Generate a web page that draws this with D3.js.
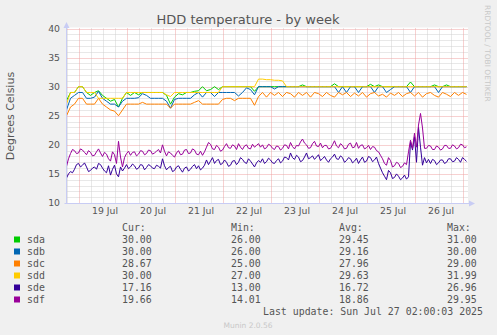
<!DOCTYPE html>
<html><head><meta charset="utf-8">
<script src="https://cdn.jsdelivr.net/npm/d3@7"></script>
<style>
html,body{margin:0;padding:0;background:#F0F0F0;}
svg{display:block;}
</style></head><body>
<svg id="c" width="497" height="335"></svg>
<script>
// ---- data ----
const seriesNames = ["sda","sdb","sdc","sdd","sde","sdf"];
const seriesColors = ["#00CC00","#0066B3","#FF8000","#FFCC00","#330099","#990099"];
// 2-hour samples
const sda = [27.6,29,29,30,30,29,28.5,29,29.3,28.5,28,27.5,27.8,26.5,28,29,28.5,29,28.6,29,29,29,29,29,29,28.5,27,28.2,28.8,28.6,29,29,29.2,29.3,30,29.3,29.5,30,29.5,30,30,30,30,30,30,30,30,29.2,30,30,30,30,30,30,30,30,30,30,30,30.3,30,30,30,30,30,30,30,30.5,30,30,30,30,30,30,30,30,30.4,30,30.3,30,30,30,30,30,30,30,30.8,30,30,30,30,30,30.3,30,30,30.3,30,30,30,30,30];
const sdb = [26,28,28.5,29,29,28,28,28.2,29.2,28,27.5,27,27,26.5,27.5,28,28,28,28.1,28.8,28.5,28,28,28,28,27.5,26.3,27.8,28,28,28,28,28.6,29,28.2,29,29,28.3,29,29,29,29,29,28.4,29,29.8,29.5,28.6,30,30,30,30,29.6,30,30,30,30,30,30,30,30,30,30,30,30,30,30,30,29,30,29,30,30,29,30,30,30,29,30,30,29,29.5,30,30,30,30,29,30,30,30,30,30,30,29,30,30,30,30,30,30,30];
const sdc = [25,26.5,27,28,28,27,27,27,28,27,26.5,26,25.8,25,26,27,27,27,27,27.3,27,27,27,27,27,27,26.3,27,27,27,27,27,27.3,27.6,27,27,27,27,27,27.8,28,28,27.6,28,28,28,28,26.8,28.3,29,28.2,29,28.5,29,28.3,29,28.8,28.2,29,28.5,29,28.2,29,28.8,28.3,29,28.5,28.2,29,28.6,29,28.3,28.9,28.4,29,28.2,28.8,29,28.4,28.7,28.2,28.9,28.5,29,28.3,28.8,29,28.4,29,28.2,28.8,29,28.5,28.2,29,28.7,28.3,29,28.5,29,28.67];
const sdd = [27,29,29,30,30,29,29,29,28,28,28,28,28,28,28,29,29,29,29,29,29,29,29,29,29,28.6,28.3,29,29,29,29,29,29,29,29,29,29,29,29,30,30,30,30,30,30,30,30,30,31.3,31.3,31.2,31.2,31.1,31.1,31,30,30,30,30,30,30,30,30,30,30,30,30,30,30,30,30,30,30,30,30,30,30,30,30,30,30,30,30,30,30,30,30,30,30,30,30,30,30,30,30,30,30,30,30,30,30];
// hourly samples
const sde = [14.3,15.0,15.4,15.2,15.8,16.6,16.8,16.2,16.5,16.9,16.2,15.4,15.6,16.0,16.2,15.8,16.8,16.6,16.0,15.5,15.2,16.4,14.8,15.8,16.5,15.0,14.5,16.2,15.5,16.0,16.6,15.9,16.2,16.7,16.4,15.8,16.0,16.6,16.5,15.7,16.1,16.6,16.4,16.0,15.9,16.5,16.3,16.0,17.6,16.4,15.7,16.1,16.3,15.4,15.6,16.2,16.4,15.8,15.3,16.0,16.2,15.5,15.8,16.3,16.6,15.9,16.4,15.7,16.0,16.5,17.4,16.6,17.2,17.8,16.8,17.3,17.5,16.6,16.8,17.4,17.0,16.3,16.5,17.2,17.3,16.6,17.0,17.8,17.5,17.0,16.8,17.6,17.2,16.7,16.2,16.9,17.3,17.0,17.6,16.8,17.1,17.7,17.4,16.9,16.8,17.3,17.6,16.9,17.2,17.9,17.8,17.4,18.6,17.8,17.5,18.2,17.9,17.1,17.3,17.9,18.6,17.6,17.8,18.1,17.5,17.9,18.3,17.3,17.6,18.0,17.4,17.0,17.6,17.9,18.4,17.6,17.5,18.1,17.8,17.0,17.3,17.8,17.6,16.9,17.2,17.7,16.8,17.4,17.9,17.0,17.2,18.0,17.8,17.1,17.4,17.9,16.8,16.0,15.2,14.6,14.0,15.6,15.2,14.2,14.4,15.0,14.6,14.0,14.3,14.8,14.1,14.5,20.5,19.1,21.4,17.0,23.0,19.6,16.5,17.8,16.9,17.5,16.8,17.5,17.3,16.6,16.9,17.4,17.4,16.8,17.0,17.6,17.6,17.1,17.2,17.8,17.5,17.0,17.8,17.5,17.16];
const sdf = [16.3,17.6,18.5,19.2,19.0,18.5,18.6,19.3,19.1,18.7,18.3,19.0,18.7,18.1,18.2,18.8,19.3,18.6,18.0,18.7,18.4,17.6,17.2,18.8,18.3,16.8,20.6,17.9,16.2,17.8,18.5,18.9,18.2,18.7,18.8,18.1,18.4,19.0,18.9,18.3,18.5,19.1,19.0,18.4,18.6,18.9,19.2,18.6,20.0,18.9,18.1,18.8,18.6,18.2,17.9,18.6,19.0,18.3,18.4,19.1,19.2,18.5,18.6,19.3,19.1,18.4,18.3,18.9,18.2,18.8,19.6,20.4,20.1,19.3,19.2,19.9,19.6,18.9,19.1,19.7,20.2,19.5,19.4,20.0,19.8,19.2,20.2,19.6,19.2,19.8,20.0,19.4,19.3,20.1,19.6,19.9,20.2,19.6,20.0,19.3,19.5,20.1,19.9,19.4,19.2,19.8,19.7,19.1,19.4,20.0,19.9,19.3,20.4,19.7,19.3,19.9,19.8,20.5,21.0,20.3,20.0,19.4,19.5,20.2,20.6,19.8,19.7,20.3,19.5,19.9,19.9,19.3,19.4,20.0,20.7,19.8,19.5,20.2,19.9,19.3,19.4,20.1,20.3,19.5,19.6,20.4,19.4,19.9,20.0,19.3,19.5,19.9,19.2,19.7,19.6,19.0,18.8,18.2,17.6,16.8,16.5,17.8,17.3,16.2,16.4,17.0,16.8,16.1,16.3,16.9,16.6,18.8,20.8,19.4,22.0,19.6,23.4,25.4,22.9,19.4,19.4,19.9,19.8,19.2,19.2,19.8,19.6,19.1,19.3,19.9,19.9,19.4,19.4,20.0,19.8,19.3,19.5,20.1,20.0,19.5,19.66];
const curVals = ["30.00","30.00","28.67","30.00","17.16","19.66"];
const minVals = ["26.00","26.00","25.00","27.00","13.00","14.01"];
const avgVals = ["29.45","29.16","27.96","29.63","16.72","18.86"];
const maxVals = ["31.00","30.00","29.00","31.99","26.96","29.95"];
const yTicks = [10,15,20,25,30,35,40];
const titleText = "HDD temperature - by week";
const yLabel = "Degrees Celsius";
const lastUpdate = "Last update: Sun Jul 27 02:00:03 2025";
const footer = "Munin 2.0.56";
const sideText = "RRDTOOL / TOBI OETIKER";

// time axis
const startMs = Date.UTC(2025,6,18,18);
const endMs = Date.UTC(2025,6,27,2);
const times2h = sda.map((_,i)=> new Date(startMs + i*2*3600e3));
const times1h = sde.map((_,i)=> new Date(startMs + i*3600e3));

const allSeries = [[sda,times2h],[sdb,times2h],[sdc,times2h],[sdd,times2h],[sde,times1h],[sdf,times1h]];

const svg = d3.select("#c");
const x = d3.scaleUtc().domain([new Date(startMs), new Date(endMs)]).range([66.5, 466.5]);
const y = d3.scaleLinear().domain([10,40]).range([203, 28.5]);
const xL = 66.5, xR = 468;

// plot background
svg.append("rect").attr("x",xL).attr("y",y(40)-1).attr("width",xR-xL).attr("height",y(10)-y(40)+1).attr("fill","#fff");

const g = svg.append("g");
const minorCol = "#D0D0D0", majorCol = "#EFA3A3";
const minorY = d3.range(11,40).filter(v=>v%5!==0);
g.selectAll(".mh").data(minorY).join("line")
  .attr("x1",xL).attr("x2",xR).attr("y1",d=>Math.round(y(d))+0.5).attr("y2",d=>Math.round(y(d))+0.5)
  .attr("stroke",minorCol).attr("stroke-dasharray","1,1");
const minorX = d3.utcHour.every(6).range(new Date(startMs), new Date(endMs)).filter(d=>d.getUTCHours()!==0);
g.selectAll(".mv").data(minorX).join("line")
  .attr("x1",d=>Math.round(x(d))+0.5).attr("x2",d=>Math.round(x(d))+0.5).attr("y1",y(40)).attr("y2",y(10))
  .attr("stroke",minorCol).attr("stroke-dasharray","1,1");
g.selectAll(".Mh").data(yTicks).join("line")
  .attr("x1",xL).attr("x2",xR).attr("y1",d=>Math.round(y(d))+0.5).attr("y2",d=>Math.round(y(d))+0.5)
  .attr("stroke",majorCol).attr("stroke-dasharray","1,1");
const days = d3.utcDay.range(new Date(startMs), new Date(endMs));
g.selectAll(".Mv").data(days).join("line")
  .attr("x1",d=>Math.round(x(d))+0.5).attr("x2",d=>Math.round(x(d))+0.5).attr("y1",y(40)).attr("y2",y(10))
  .attr("stroke",majorCol).attr("stroke-dasharray","1,1");

// series lines
allSeries.forEach(([s,t],k)=>{
  const line = d3.line().x((d,i)=>x(t[i])).y(d=>y(d));
  svg.append("path").datum(s).attr("d",line).attr("fill","none")
    .attr("stroke",seriesColors[k]).attr("stroke-width",1);
});

// axes lines with arrows
const axisCol = "#C8CCF4";
svg.append("line").attr("x1",xL).attr("x2",xL).attr("y1",23).attr("y2",y(10)+0.5).attr("stroke",axisCol);
svg.append("path").attr("d",`M${xL-3},28 L${xL+3},28 L${xL},22 Z`).attr("fill",axisCol);
svg.append("line").attr("x1",xL-2).attr("x2",472).attr("y1",Math.round(y(10))+0.5).attr("y2",Math.round(y(10))+0.5).attr("stroke",axisCol);
svg.append("path").attr("d",`M469,${y(10)-3+0.5} L469,${y(10)+3+0.5} L475,${y(10)+0.5} Z`).attr("fill",axisCol);

// y axis labels
const yAxis = d3.axisLeft(y).tickValues(yTicks).tickSize(0).tickPadding(0).tickFormat(d3.format("d"));
const ya = svg.append("g").attr("transform","translate(60,0)").call(yAxis);
ya.select(".domain").remove();
ya.selectAll("text").attr("font-family","DejaVu Sans").attr("font-size","9.3px").attr("fill","#555");

// x axis labels at noon
const noons = days.map(d=>new Date(+d + 12*3600e3)).filter(d=>+d<endMs);
const xAxis = d3.axisBottom(x).tickValues(noons).tickSize(0).tickPadding(0).tickFormat(d3.utcFormat("%d Jul"));
const xa = svg.append("g").attr("transform","translate(2,207)").call(xAxis);
xa.select(".domain").remove();
xa.selectAll("text").attr("font-family","DejaVu Sans").attr("font-size","9.3px").attr("fill","#555");

// title
svg.append("text").attr("x",248).attr("y",24).attr("text-anchor","middle")
  .attr("font-family","DejaVu Sans").attr("font-size","13px").attr("fill","#555").text(titleText);
// y label
svg.append("text").attr("transform","translate(14,116) rotate(-90)").attr("text-anchor","middle")
  .attr("font-family","DejaVu Sans").attr("font-size","11px").attr("fill","#555").text(yLabel);
// side text
svg.append("text").attr("transform","translate(485,5) rotate(90)").attr("text-anchor","start")
  .attr("font-family","DejaVu Sans").attr("font-size","7.5px").attr("fill","#C8C8C8").text(sideText);

// legend
const mono = "DejaVu Sans Mono";
const cols = [122,231,339,447];
const heads = ["Cur:","Min:","Avg:","Max:"];
heads.forEach((h,i)=>{
  svg.append("text").attr("x",cols[i]).attr("y",231).attr("font-family",mono).attr("font-size","9.9px").attr("fill","#555").text(h);
});
const rowY = [239.5,251.5,263.5,275.5,287.5,299.5];
seriesNames.forEach((n,k)=>{
  const ry = rowY[k];
  svg.append("rect").attr("x",14).attr("y",ry-3).attr("width",6).attr("height",6).attr("fill",seriesColors[k]);
  svg.append("text").attr("x",27).attr("y",ry+3.5).attr("font-family",mono).attr("font-size","9.9px").attr("fill","#555").text(n);
  [curVals[k],minVals[k],avgVals[k],maxVals[k]].forEach((v,i)=>{
    svg.append("text").attr("x",cols[i]).attr("y",ry+3.5).attr("font-family",mono).attr("font-size","9.9px").attr("fill","#555").text(v);
  });
});
svg.append("text").attr("x",483).attr("y",315).attr("text-anchor","end").attr("font-family",mono).attr("font-size","9.9px").attr("fill","#555").text(lastUpdate);
svg.append("text").attr("x",248).attr("y",327.5).attr("text-anchor","middle").attr("font-family","DejaVu Sans").attr("font-size","7.5px").attr("fill","#C8C8C8").text(footer);
</script>
</body></html>
